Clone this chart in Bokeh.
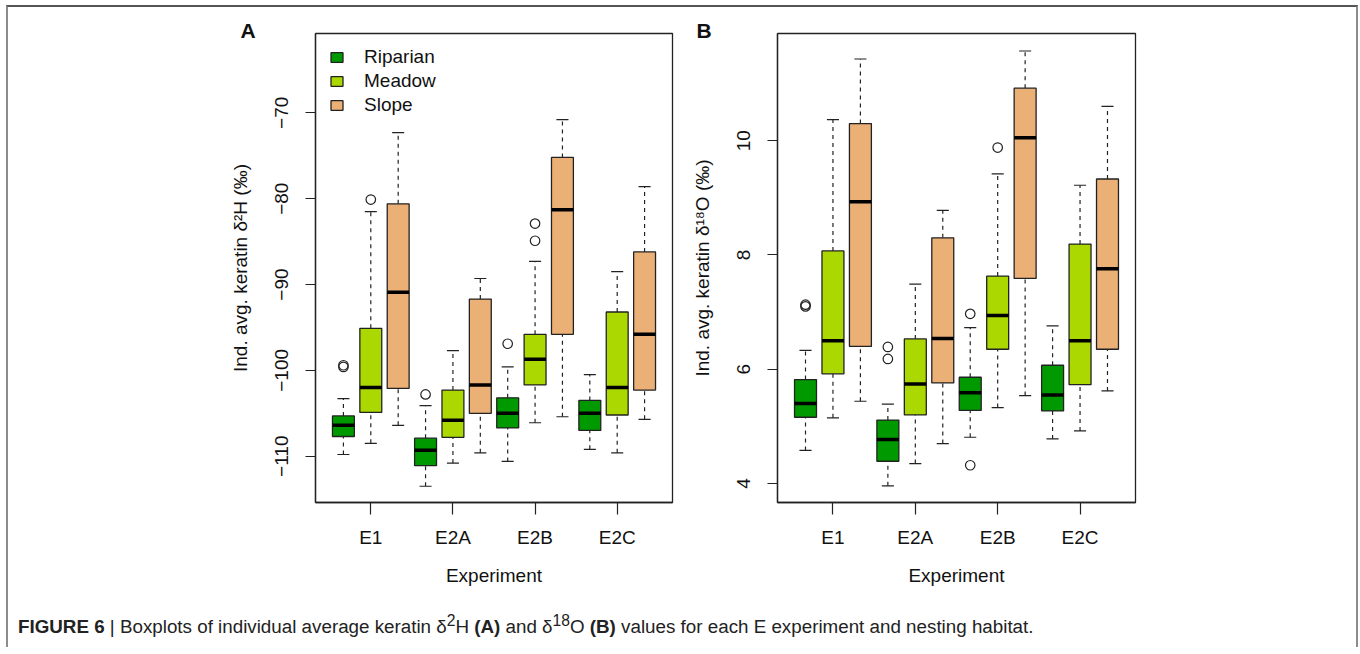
from bokeh.plotting import figure
from bokeh.models import ColumnDataSource, FixedTicker, Legend, LegendItem, Div
from bokeh.layouts import row, column
from bokeh.embed import file_html
from bokeh.resources import INLINE

FONT = "Liberation Sans"

experiments = ["E1", "E2A", "E2B", "E2C"]
habitats = ["Riparian", "Meadow", "Slope"]
colors = ["#009A00", "#ABD800", "#EBB076"]

# ---- Panel A: keratin d2H (per habitat, per experiment) ----
h_lw = {"Riparian": [-109.8, -113.5, -110.6, -109.2],
        "Meadow":   [-108.5, -110.8, -106.1, -109.6],
        "Slope":    [-106.4, -109.6, -105.4, -105.7]}
h_q1 = {"Riparian": [-107.7, -111.1, -106.7, -107.0],
        "Meadow":   [-104.9, -107.8, -101.7, -105.2],
        "Slope":    [-102.1, -105.0, -95.8, -102.3]}
h_med = {"Riparian": [-106.4, -109.3, -105.0, -105.0],
         "Meadow":   [-102.0, -105.8, -98.7, -102.0],
         "Slope":    [-90.9, -101.7, -81.3, -95.8]}
h_q3 = {"Riparian": [-105.3, -107.9, -103.2, -103.5],
        "Meadow":   [-95.1, -102.3, -95.8, -93.2],
        "Slope":    [-80.6, -91.7, -75.2, -86.2]}
h_uw = {"Riparian": [-103.3, -104.1, -99.6, -100.5],
        "Meadow":   [-81.5, -97.7, -87.3, -88.5],
        "Slope":    [-72.3, -89.3, -70.8, -78.6]}
h_out_exp = ["E1", "E1", "E2A", "E2B", "E1", "E2B", "E2B"]
h_out_hab = ["Riparian", "Riparian", "Riparian", "Riparian", "Meadow", "Meadow", "Meadow"]
h_out_val = [-99.4, -99.6, -102.8, -96.9, -80.1, -82.9, -84.9]

# ---- Panel B: keratin d18O ----
o_lw = {"Riparian": [4.58, 3.96, 4.81, 4.78],
        "Meadow":   [5.15, 4.35, 5.33, 4.92],
        "Slope":    [5.44, 4.70, 5.54, 5.62]}
o_q1 = {"Riparian": [5.16, 4.39, 5.28, 5.27],
        "Meadow":   [5.92, 5.20, 6.35, 5.73],
        "Slope":    [6.40, 5.76, 7.59, 6.35]}
o_med = {"Riparian": [5.40, 4.77, 5.59, 5.55],
         "Meadow":   [6.50, 5.74, 6.94, 6.50],
         "Slope":    [8.93, 6.54, 10.05, 7.76]}
o_q3 = {"Riparian": [5.82, 5.11, 5.86, 6.07],
        "Meadow":   [8.07, 6.53, 7.63, 8.19],
        "Slope":    [10.30, 8.30, 10.92, 9.33]}
o_uw = {"Riparian": [6.33, 5.39, 6.73, 6.76],
        "Meadow":   [10.37, 7.49, 9.42, 9.22],
        "Slope":    [11.43, 8.78, 11.57, 10.60]}
o_out_exp = ["E1", "E1", "E2A", "E2A", "E2B", "E2B", "E2B"]
o_out_hab = ["Riparian", "Riparian", "Riparian", "Riparian", "Riparian", "Riparian", "Meadow"]
o_out_val = [7.10, 7.13, 6.39, 6.18, 6.97, 4.32, 9.88]

h_ticks = [-110, -100, -90, -80, -70]
o_ticks = [4, 6, 8, 10]
h_ylabel = "Ind. avg. keratin δ²H (‰)"
o_ylabel = "Ind. avg. keratin δ¹⁸O (‰)"
xlabel = "Experiment"

LINE = "#222222"


def pos(exp, hab):
    return experiments.index(exp) * 3 + habitats.index(hab) + 1


def make_panel(width, mbl, mbr, yrange, lw, q1, med, q3, uw, oexp, ohab, oval,
               yticks, ylabel, letter, letter_dx, legend=False):
    p = figure(width=width, height=600, x_range=(-0.02, 13.02), y_range=yrange,
               output_backend="svg", toolbar_location=None, title=letter,
               min_border_left=mbl, min_border_right=mbr,
               min_border_top=26, min_border_bottom=105)
    p.xgrid.visible = False
    p.ygrid.visible = False
    p.background_fill_color = "white"
    p.border_fill_color = "white"
    p.outline_line_color = LINE
    p.outline_line_width = 1.3
    p.outline_line_alpha = 1

    p.title.align = "left"
    p.title.offset = letter_dx
    p.title.standoff = -16
    p.title.text_font = FONT
    p.title.text_font_size = "21px"
    p.title.text_font_style = "bold"
    p.title.text_color = "#111111"

    renderers = []
    for hi, hab in enumerate(habitats):
        xs = [pos(e, hab) for e in experiments]
        src = ColumnDataSource(dict(
            x=xs, xl=[x - 0.4 for x in xs], xr=[x + 0.4 for x in xs],
            cl=[x - 0.22 for x in xs], cr=[x + 0.22 for x in xs],
            lw=lw[hab], q1=q1[hab], med=med[hab], q3=q3[hab], uw=uw[hab]))
        p.segment(x0="x", y0="q3", x1="x", y1="uw", source=src,
                  line_color=LINE, line_width=1.2, line_dash="4 4")
        p.segment(x0="x", y0="lw", x1="x", y1="q1", source=src,
                  line_color=LINE, line_width=1.2, line_dash="4 4")
        p.segment(x0="cl", y0="uw", x1="cr", y1="uw", source=src,
                  line_color=LINE, line_width=1.2)
        p.segment(x0="cl", y0="lw", x1="cr", y1="lw", source=src,
                  line_color=LINE, line_width=1.2)
        r = p.vbar(x="x", width=0.8, bottom="q1", top="q3", source=src,
                   fill_color=colors[hi], line_color=LINE, line_width=1.3)
        p.segment(x0="xl", y0="med", x1="xr", y1="med", source=src,
                  line_color="black", line_width=3.5)
        renderers.append(r)

    osrc = ColumnDataSource(dict(x=[pos(e, h) for e, h in zip(oexp, ohab)], y=oval))
    p.scatter(x="x", y="y", source=osrc, marker="circle", size=9.5,
              fill_color=None, line_color=LINE, line_width=1.2)

    # axes
    p.xaxis.ticker = FixedTicker(ticks=[pos(e, "Meadow") for e in experiments])
    p.xaxis.major_label_overrides = {pos(e, "Meadow"): e for e in experiments}
    p.yaxis.ticker = FixedTicker(ticks=yticks)
    p.yaxis.major_label_overrides = {t: str(t).replace("-", "\u2212") for t in yticks}
    p.yaxis.major_label_orientation = "vertical"
    for ax in (p.xaxis[0], p.yaxis[0]):
        ax.axis_line_color = LINE
        ax.axis_line_width = 1.3
        ax.major_tick_line_color = LINE
        ax.major_tick_line_width = 1.2
        ax.major_tick_in = 0
        ax.minor_tick_line_color = None
        ax.major_label_text_font = FONT
        ax.major_label_text_font_size = "19px"
        ax.major_label_text_color = "#111111"
        ax.axis_label_text_font = FONT
        ax.axis_label_text_font_size = "19px"
        ax.axis_label_text_font_style = "normal"
        ax.axis_label_text_color = "#111111"
    p.xaxis.major_tick_out = 12
    p.yaxis.major_tick_out = 10
    p.xaxis.major_label_standoff = 12
    p.yaxis.major_label_standoff = 17
    p.xaxis.axis_label = xlabel
    p.yaxis.axis_label = ylabel
    p.xaxis.axis_label_standoff = 14
    p.yaxis.axis_label_standoff = 22

    if legend:
        leg = Legend(items=[LegendItem(label=h, renderers=[r]) for h, r in zip(habitats, renderers)],
                     location=(14, 386), border_line_color=None,
                     background_fill_alpha=0, label_text_font=FONT,
                     label_text_font_size="19px", label_text_color="#111111",
                     glyph_width=15, glyph_height=12, label_standoff=20,
                     spacing=2, padding=0, margin=0, label_height=21)
        p.add_layout(leg)
    return p


pA = make_panel(677, 307, 13, (-115.39, -60.76), h_lw, h_q1, h_med, h_q3, h_uw,
                h_out_exp, h_out_hab, h_out_val, h_ticks, h_ylabel, "A", -75, legend=True)
pB = make_panel(671, 92, 221, (3.668, 11.876), o_lw, o_q1, o_med, o_q3, o_uw,
                o_out_exp, o_out_hab, o_out_val, o_ticks, o_ylabel, "B", -81)

caption = Div(
    text=('<b>FIGURE 6</b> | Boxplots of individual average keratin δ<sup>2</sup>H <b>(A)</b> '
          'and δ<sup>18</sup>O <b>(B)</b> values for each E experiment and nesting habitat.'),
    width=1348, height=40, margin=(0, 0, 0, 0),
    styles={"font-family": FONT, "font-size": "18.8px", "color": "#222222",
            "padding-left": "10px", "padding-top": "3px"})

layout = column(row(pA, pB), caption,
                styles={"border-left": "2px solid #8c8c8c",
                        "border-top": "2px solid #555555",
                        "border-right": "2px solid #8c8c8c",
                        "margin-left": "6px", "margin-top": "5px"})

open("out.html", "w").write(file_html(layout, INLINE))
